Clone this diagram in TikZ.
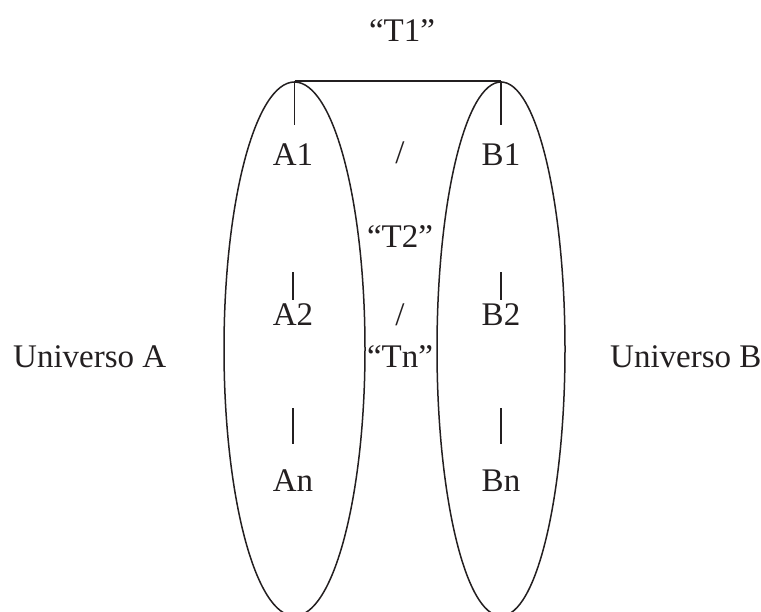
\documentclass[tikz,border=0pt]{standalone}
\usepackage{fontspec}
\setmainfont{Liberation Serif}
\usepackage{tikz}
\usetikzlibrary{positioning,shapes.geometric}
\definecolor{inkcol}{RGB}{35,31,32}
\tikzset{
  universe/.style={ellipse,draw=inkcol,line width=1.5pt,inner sep=0pt},
  lbl/.style={inner sep=0pt,anchor=base,text=inkcol,font=\fontsize{33}{40}\selectfont},
  tick/.style={draw=inkcol,line width=1.5pt},
}

\begin{document}
\begin{tikzpicture}[x=1pt,y=1pt]
  \useasboundingbox (0,0) rectangle (761,612);
  % the two universes
  \node[universe,minimum width=141,minimum height=534] (univA) at (294.5,263) {};
  \node[universe,minimum width=128,minimum height=534] (univB) at (501,263) {};
  \node[lbl,anchor=base west] (uniA) at (13,244) {Universo A};
  \node[lbl,anchor=base west] (uniB) at (610,244) {Universo B};
  % terms of A and B
  \node[lbl] (a1) at (293,446) {A1};
  \node[lbl] (a2) at (293,286) {A2};
  \node[lbl] (an) at (293,120) {An};
  \node[lbl] (b1) at (501,446) {B1};
  \node[lbl] (b2) at (501,286) {B2};
  \node[lbl] (bn) at (501,120) {Bn};
  % translations in between
  \node[lbl] (t1) at (402,570) {“T1”};
  \node[lbl] (s1) at (400,448) {/};
  \node[lbl] (t2) at (400,364) {“T2”};
  \node[lbl] (s2) at (400,286) {/};
  \node[lbl] (tn) at (400,244) {“Tn”};
  \draw[tick] (univA.north) -- (univB.north);
  \draw[tick] (univA.north) -- ++(0,-44);
  \draw[tick] (univB.north) -- ++(0,-44);
  \draw[tick] ([yshift=26pt]a2.base) -- ++(0,28);
  \draw[tick] ([yshift=26pt]b2.base) -- ++(0,28);
  \draw[tick] ([yshift=48pt]an.base) -- ++(0,36);
  \draw[tick] ([yshift=48pt]bn.base) -- ++(0,36);
\end{tikzpicture}
\end{document}
